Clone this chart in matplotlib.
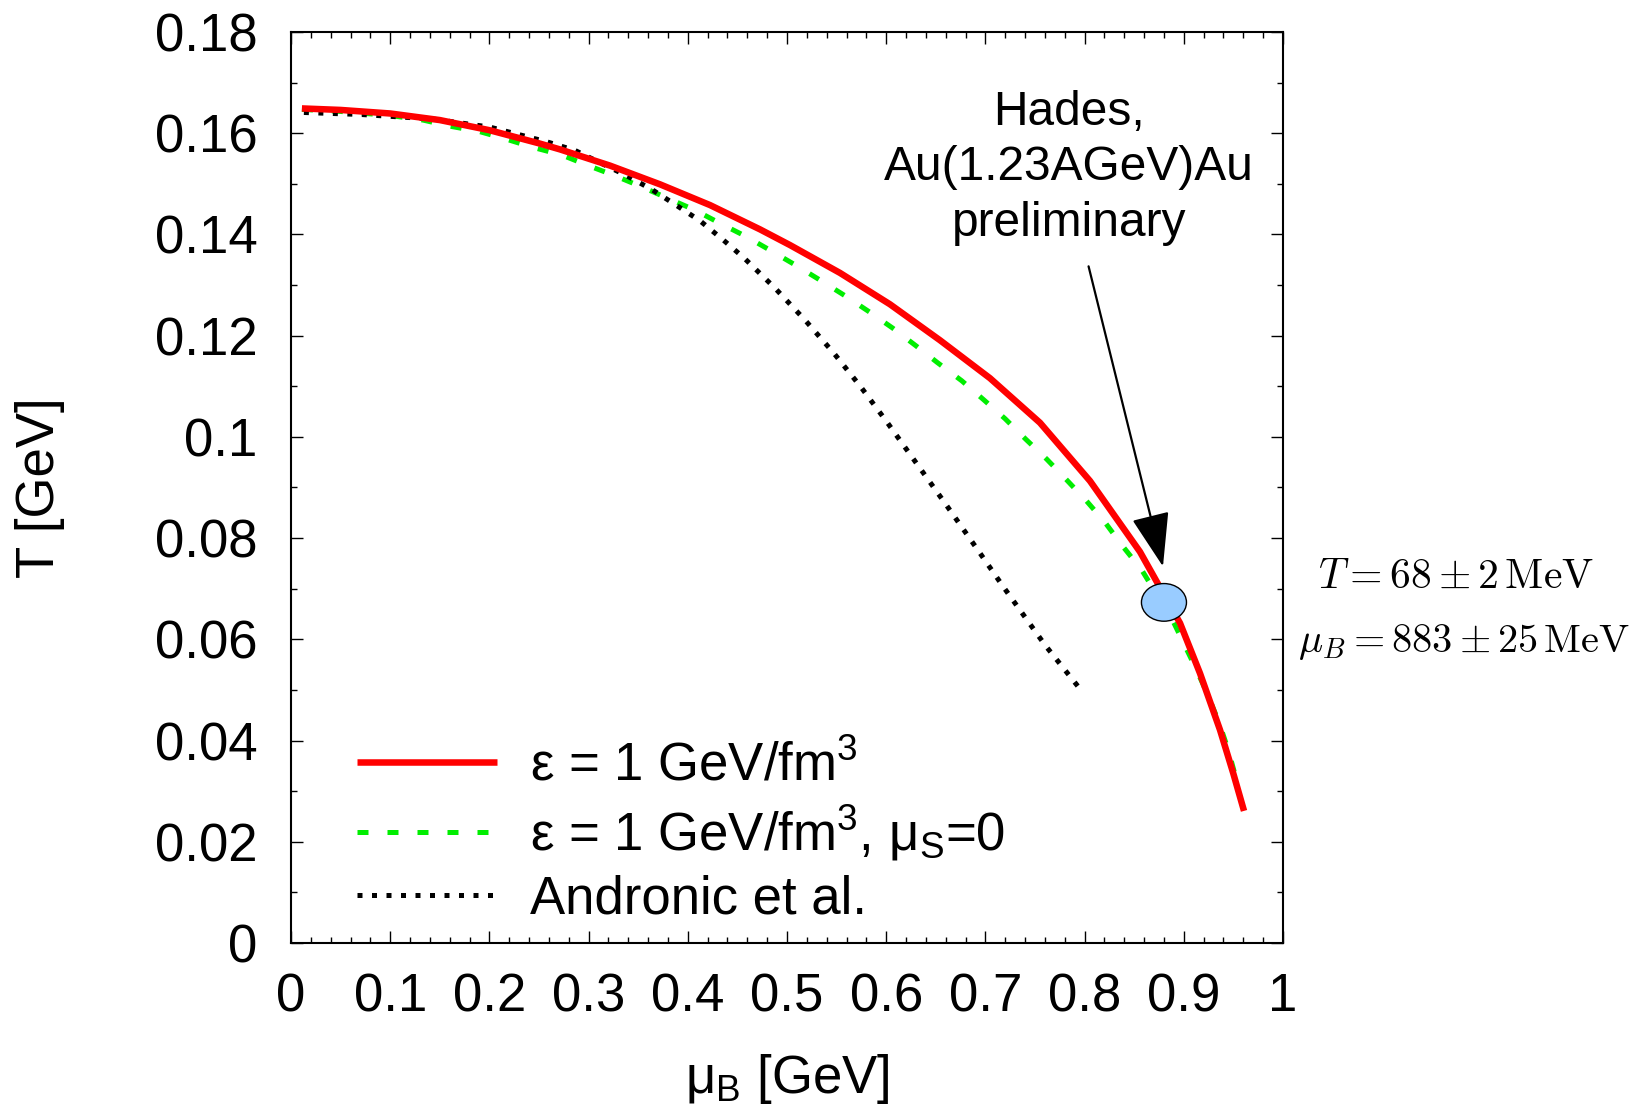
import matplotlib
matplotlib.use("Agg")
import matplotlib.pyplot as plt
from matplotlib.patches import Ellipse
from matplotlib.ticker import MultipleLocator, FixedLocator

# ---------------- data ----------------
mu_red = [0.011, 0.05, 0.1, 0.15, 0.2, 0.25, 0.2712, 0.3216, 0.372, 0.4224, 0.4728, 0.503,
          0.5534, 0.6038, 0.6542, 0.7046, 0.755, 0.8054, 0.8558, 0.8962, 0.9163, 0.9365,
          0.9499, 0.9607]
T_red = [0.1649, 0.1646, 0.1639, 0.1626, 0.1606, 0.1580, 0.1568, 0.1536, 0.1499, 0.1458,
         0.1410, 0.1379, 0.1324, 0.1262, 0.1191, 0.1116, 0.1028, 0.0913, 0.0773, 0.0632,
         0.0533, 0.0421, 0.0335, 0.0261]

mu_green = [0.011, 0.05, 0.1, 0.133, 0.160, 0.1905, 0.2174, 0.244, 0.2729, 0.2997, 0.3266,
            0.3535, 0.3804, 0.4073, 0.4325, 0.4587, 0.4846, 0.5098, 0.5340, 0.5592, 0.5830,
            0.6065, 0.6300, 0.6515, 0.6761, 0.6979, 0.7198, 0.7409, 0.7618, 0.7819, 0.8021,
            0.8206, 0.8384, 0.8576, 0.8894, 0.9002, 0.9130, 0.9247, 0.9358, 0.9449, 0.952]
T_green = [0.1647, 0.1643, 0.1635, 0.1626, 0.1614, 0.1603, 0.1588, 0.1572, 0.1557, 0.1536,
           0.1516, 0.1494, 0.1471, 0.1448, 0.1422, 0.1396, 0.1367, 0.1338, 0.1309, 0.1278,
           0.1247, 0.1215, 0.1180, 0.1147, 0.1111, 0.1074, 0.1036, 0.0995, 0.0956, 0.0915,
           0.0873, 0.0831, 0.0784, 0.0737, 0.0635, 0.0591, 0.0539, 0.0488, 0.0434, 0.0381, 0.033]

mu_andronic = [0.013, 0.071, 0.1435, 0.2006, 0.258, 0.2863, 0.3384, 0.3636, 0.3881, 0.4123,
               0.4352, 0.4570, 0.4879, 0.5181, 0.5474, 0.5743, 0.6005, 0.6257, 0.6593, 0.6929,
               0.718, 0.760, 0.797]
T_andronic = [0.1641, 0.1637, 0.1628, 0.1612, 0.1583, 0.1566, 0.1516, 0.1489, 0.1458, 0.1427,
              0.1390, 0.1353, 0.1294, 0.1231, 0.1165, 0.1099, 0.1030, 0.0961, 0.0869, 0.0775,
              0.0704, 0.0589, 0.0498]

hades_mu, hades_T = 0.880, 0.0673
hades_dmu, hades_dT = 0.0454, 0.00744

labels = [r'ε = 1 GeV/fm$^3$', r'ε = 1 GeV/fm$^3$, μ$_\mathrm{S}$=0', 'Andronic et al.']
x_ticks = [0, 0.1, 0.2, 0.3, 0.4, 0.5, 0.6, 0.7, 0.8, 0.9, 1.0]
x_ticklabels = ['0', '0.1', '0.2', '0.3', '0.4', '0.5', '0.6', '0.7', '0.8', '0.9', '1']
y_ticks = [0, 0.02, 0.04, 0.06, 0.08, 0.10, 0.12, 0.14, 0.16, 0.18]
y_ticklabels = ['0', '0.02', '0.04', '0.06', '0.08', '0.1', '0.12', '0.14', '0.16', '0.18']

# ---------------- style ----------------
plt.rcParams['font.family'] = ['Liberation Sans', 'DejaVu Sans']
plt.rcParams['mathtext.fontset'] = 'custom'
plt.rcParams['mathtext.rm'] = 'Liberation Sans'
plt.rcParams['mathtext.it'] = 'Liberation Sans:italic'
plt.rcParams['mathtext.bf'] = 'Liberation Sans:bold'

W, H = 1645, 1109
fig = plt.figure(figsize=(W / 100, H / 100), dpi=100)
ax = fig.add_axes([291 / W, (H - 943) / H, 992 / W, 911 / H])

ax.plot(mu_red, T_red, color='#ff0000', lw=4.7, solid_capstyle='butt',
        solid_joinstyle='round', label=labels[0], zorder=4)
ax.plot(mu_green, T_green, color='#00ee00', lw=3.6, linestyle=(0, (2.2, 3.8)),
        label=labels[1], zorder=3)
ax.plot(mu_andronic, T_andronic, color='black', lw=3.6, linestyle=(0, (1, 1.9)),
        label=labels[2], zorder=3)

ell = Ellipse((hades_mu, hades_T), width=hades_dmu, height=hades_dT,
              facecolor='#99ccff', edgecolor='black', lw=1.0, zorder=6)
ax.add_patch(ell)

ax.annotate('', xy=(0.879, 0.0744), xytext=(0.804, 0.1337),
            arrowprops=dict(arrowstyle='-|>,head_length=3.4,head_width=1.2',
                            mutation_scale=10, lw=1.6, color='black',
                            shrinkA=0, shrinkB=0), zorder=7)
ax.text(0.784, 0.851, 'Hades,\nAu(1.23AGeV)Au\npreliminary', transform=ax.transAxes,
        ha='center', va='center', fontsize=34.5, linespacing=1.3)

fig.text(1318 / W, (H - 588) / H, r'$T = 68 \pm 2\,\mathrm{MeV}$', fontsize=30,
         ha='left', va='baseline', math_fontfamily='cm')
fig.text(1298 / W, (H - 652) / H, r'$\mu_B = 883 \pm 25\,\mathrm{MeV}$', fontsize=29,
         ha='left', va='baseline', math_fontfamily='cm')

ax.set_xlim(0, 1)
ax.set_ylim(0, 0.18)
ax.xaxis.set_major_locator(FixedLocator(x_ticks))
ax.set_xticklabels(x_ticklabels)
ax.yaxis.set_major_locator(FixedLocator(y_ticks))
ax.set_yticklabels(y_ticklabels)
ax.xaxis.set_minor_locator(MultipleLocator(0.02))
ax.yaxis.set_minor_locator(MultipleLocator(0.01))
ax.tick_params(which='both', direction='in', top=True, right=True, width=1.0)
ax.tick_params(which='major', length=8.6)
ax.tick_params(which='minor', length=4.3)
ax.tick_params(axis='x', which='major', labelsize=38, pad=21)
ax.tick_params(axis='y', which='major', labelsize=38, pad=24)
for s in ax.spines.values():
    s.set_linewidth(1.5)

ax.text(-0.253, 0.5, 'T [GeV]', rotation=90, ha='center', va='center',
        transform=ax.transAxes, fontsize=38)
ax.text(0.5, -0.1647, r'μ$_\mathrm{B}$ [GeV]', ha='center', va='baseline',
        transform=ax.transAxes, fontsize=38)

ax.legend(loc='lower left', bbox_to_anchor=(0.0665, 0.02), frameon=False, fontsize=38,
          handlelength=2.65, handletextpad=0.62, labelspacing=0.22, borderpad=0,
          borderaxespad=0)

fig.savefig('out.png', dpi=100)
